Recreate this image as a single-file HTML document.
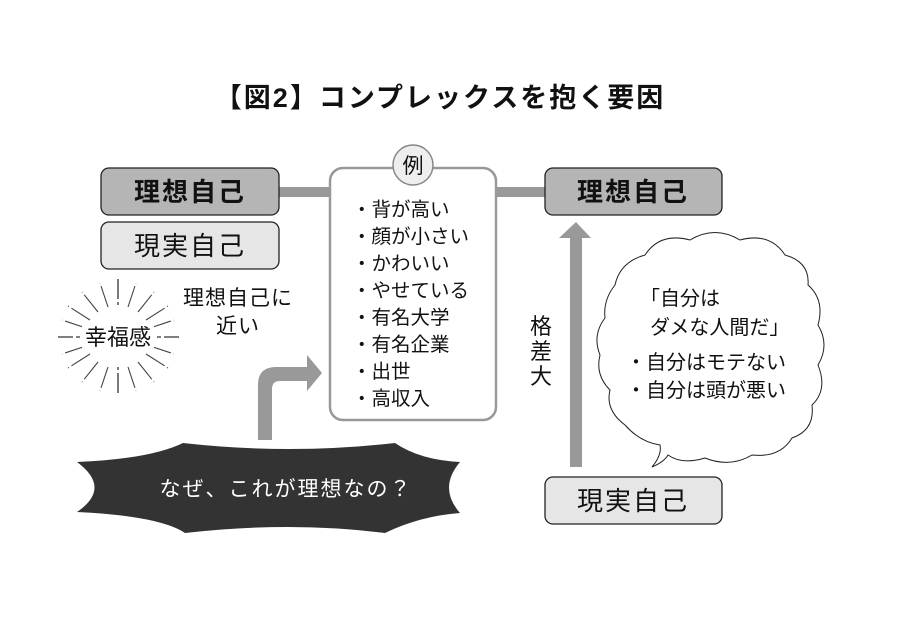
<!DOCTYPE html>
<html><head><meta charset="utf-8"><style>
body{margin:0;background:#fff;}
svg text{font-family:"Liberation Sans","Noto Sans CJK JP",sans-serif;}
</style></head><body>
<svg width="917" height="630" viewBox="0 0 917 630" xmlns="http://www.w3.org/2000/svg">
<rect width="917" height="630" fill="#fff"/>
<text x="440" y="107" font-size="27" font-weight="bold" text-anchor="middle" fill="#111" letter-spacing="2">【図2】コンプレックスを抱く要因</text>

<!-- connectors -->
<rect x="278" y="187" width="54" height="10" fill="#999"/>
<rect x="496" y="187" width="50" height="10" fill="#999"/>

<!-- left boxes -->
<rect x="101" y="168" width="178" height="47" rx="8" fill="#b5b5b5" stroke="#222" stroke-width="1.3"/>
<text x="190" y="201" font-size="26" font-weight="bold" text-anchor="middle" fill="#111" letter-spacing="2">理想自己</text>
<rect x="101" y="222" width="178" height="47" rx="8" fill="#e6e6e6" stroke="#222" stroke-width="1.3"/>
<text x="190" y="255" font-size="26" text-anchor="middle" fill="#111" letter-spacing="2">現実自己</text>

<!-- example box -->
<rect x="330" y="168" width="166" height="252" rx="13" fill="#fff" stroke="#999" stroke-width="2.5"/>
<circle cx="413" cy="165" r="20" fill="#eee" stroke="#888" stroke-width="1.5"/>
<text x="413" y="173" font-size="21" text-anchor="middle" fill="#111">例</text>
<g font-size="19.5" fill="#111">
<text x="352" y="216">・背が高い</text>
<text x="352" y="243">・顔が小さい</text>
<text x="352" y="270">・かわいい</text>
<text x="352" y="297">・やせている</text>
<text x="352" y="324">・有名大学</text>
<text x="352" y="351">・有名企業</text>
<text x="352" y="378">・出世</text>
<text x="352" y="405">・高収入</text>
</g>

<!-- happiness burst -->
<g stroke="#333" stroke-width="1.3" stroke-dasharray="3 3 20 3 3 40">
<line x1="118" y1="305" x2="118" y2="278"/>
<line x1="118" y1="367" x2="118" y2="395"/>
<line x1="80" y1="337" x2="58" y2="337" stroke-dasharray="4 3 15"/>
<line x1="157" y1="337" x2="179" y2="337" stroke-dasharray="4 3 15"/>
</g>
<g stroke="#444" stroke-width="1.1" stroke-dasharray="22 3 3">
<line x1="108" y1="307" x2="100" y2="283"/>
<line x1="128" y1="307" x2="136" y2="283"/>
<line x1="98" y1="312" x2="82" y2="292"/>
<line x1="138" y1="312" x2="154" y2="292"/>
<line x1="90" y1="320" x2="68" y2="306"/>
<line x1="146" y1="320" x2="168" y2="306"/>
<line x1="86" y1="328" x2="62" y2="320"/>
<line x1="150" y1="328" x2="174" y2="320"/>
<line x1="86" y1="346" x2="62" y2="354"/>
<line x1="150" y1="346" x2="174" y2="354"/>
<line x1="90" y1="354" x2="68" y2="368"/>
<line x1="146" y1="354" x2="168" y2="368"/>
<line x1="98" y1="362" x2="82" y2="382"/>
<line x1="138" y1="362" x2="154" y2="382"/>
<line x1="108" y1="367" x2="100" y2="391"/>
<line x1="128" y1="367" x2="136" y2="391"/>
</g>
<rect x="82" y="322" width="72" height="30" fill="#fff"/>
<text x="118" y="345" font-size="22" text-anchor="middle" fill="#111">幸福感</text>
<text x="238" y="305" font-size="21" text-anchor="middle" fill="#111" letter-spacing="1">理想自己に</text>
<text x="238" y="333" font-size="21" text-anchor="middle" fill="#111" letter-spacing="1">近い</text>

<!-- L arrow -->
<path d="M258,440 L258,385 Q258,367 276,367 L307,367 L307,355 L322,373 L307,391 L307,381 L280,381 Q272,381 272,389 L272,440 Z" fill="#999"/>

<!-- dark burst -->
<path d="M183,443 Q290,455 395,443 Q420,460 460,462 Q438,488 460,513 Q420,516 385,533 Q290,521 185,533 Q160,516 77,512 Q112,488 77,462 Q150,459 183,443 Z" fill="#333"/>
<text x="286" y="496" font-size="21" text-anchor="middle" fill="#fff" letter-spacing="2">なぜ、これが理想なの？</text>

<!-- right side -->
<rect x="545" y="168" width="177" height="47" rx="8" fill="#b5b5b5" stroke="#222" stroke-width="1.3"/>
<text x="633" y="201" font-size="26" font-weight="bold" text-anchor="middle" fill="#111" letter-spacing="2">理想自己</text>
<rect x="545" y="477" width="177" height="47" rx="8" fill="#e6e6e6" stroke="#222" stroke-width="1.3"/>
<text x="633" y="510" font-size="26" text-anchor="middle" fill="#111" letter-spacing="2">現実自己</text>

<path d="M570,467 L570,238 L559,238 L576,222 L591,238 L582,238 L582,467 Z" fill="#999"/>
<g font-size="22" fill="#111" text-anchor="middle">
<text x="541" y="334">格</text>
<text x="541" y="359">差</text>
<text x="541" y="384">大</text>
</g>

<!-- cloud bubble -->
<path d="M652,467 Q662,455 660,445 Q640,442 625,425 Q605,410 610,390 Q595,375 600,355 Q592,335 605,318 Q603,300 615,285 Q620,262 645,255 Q660,232 690,240 Q715,225 740,240 Q770,232 785,255 Q810,262 808,285 Q825,300 818,325 Q830,345 818,365 Q828,390 812,405 Q815,430 792,438 Q780,458 752,455 Q730,468 705,458 Q682,465 668,455 Q664,462 652,467 Z" fill="#fff" stroke="#222" stroke-width="1"/>
<g font-size="20" fill="#111">
<text x="640" y="305">「自分は</text>
<text x="650" y="334">ダメな人間だ」</text>
<text x="626" y="369">・自分はモテない</text>
<text x="626" y="397">・自分は頭が悪い</text>
</g>
</svg>
</body></html>
